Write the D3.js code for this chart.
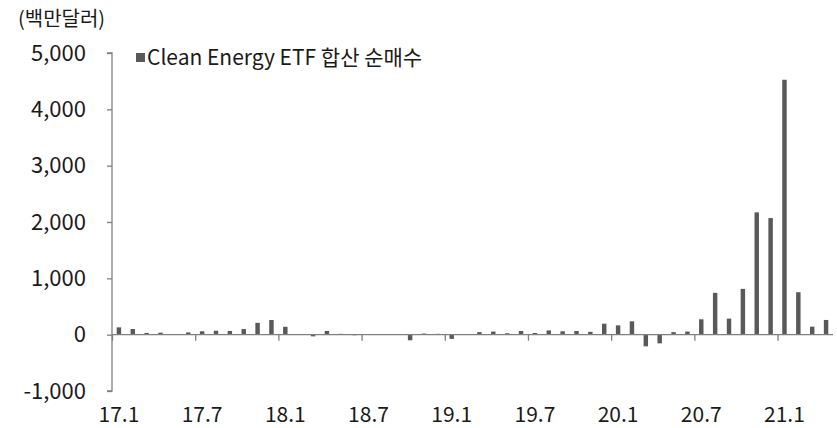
<!DOCTYPE html>
<html>
<head>
<meta charset="utf-8">
<script src="https://cdn.jsdelivr.net/npm/d3@7"></script>
<style>
  body { margin: 0; background: #fff; }
  svg text { font-family: "Noto Sans CJK KR", "Noto Sans", sans-serif; fill: #1a1a1a; }
</style>
</head>
<body>
<svg id="chart" width="837" height="428"></svg>
<script>
// monthly net flows, 17.1 ~ 21.4 (million USD)
var years = ["17", "18", "19", "20", "21"];
var flows17 = [130, 100, 30, 35, 5, 40, 60, 70, 65, 100, 210, 260];
var flows18 = [140, 5, -30, 65, 15, -10, 5, 5, 5, -100, 20, 15];
var flows19 = [-75, 10, 45, 55, 25, 65, 30, 75, 60, 65, 50, 195];
var flows20 = [165, 237, -207, -154, 45, 55, 273, 742, 285, 813, 2171, 2070];
var flows21 = [4525, 753, 142, 261];
var tickLabels = ["17.1", "17.7", "18.1", "18.7", "19.1", "19.7", "20.1", "20.7", "21.1"];
var yTicks = [-1000, 0, 1000, 2000, 3000, 4000, 5000];
var seriesName = "Clean Energy ETF 합산 순매수";
var unitLabel = "(백만달러)";

var allFlows = [flows17, flows18, flows19, flows20, flows21];
var data = [];
allFlows.forEach(function(arr, yi){
  arr.forEach(function(v, mi){
    data.push({ month: years[yi] + "." + (mi + 1), value: v });
  });
});

var plotL = 112, plotR = 833, plotT = 53, plotB = 391;

var svg = d3.select("#chart");

var y = d3.scaleLinear().domain([-1000, 5000]).range([plotB, plotT]);

var x = d3.scaleBand()
  .domain(data.map(function(d){ return d.month; }))
  .range([plotL, plotR])
  .paddingInner(0.68)
  .paddingOuter(0.34);

// linear month index scale for the boundary ticks
var xi = d3.scaleLinear().domain([0, data.length]).range([plotL, plotR]);

// bars
svg.append("g").selectAll("rect")
  .data(data)
  .enter().append("rect")
  .attr("x", function(d){ return x(d.month); })
  .attr("width", x.bandwidth())
  .attr("y", function(d){ return d.value >= 0 ? y(d.value) : y(0); })
  .attr("height", function(d){ return Math.abs(y(d.value) - y(0)); })
  .attr("fill", "#595959");

// y axis
var yAxis = svg.append("g")
  .attr("transform", "translate(" + plotL + ",0)")
  .call(d3.axisLeft(y).tickValues(yTicks).tickSize(5).tickPadding(21)
    .tickFormat(function(d){ return d3.format(",")(d).replace("\u2212", "-"); }));
yAxis.selectAll("text").style("font-size", "22px");

// x axis at zero: boundary ticks
var xAxis = svg.append("g")
  .attr("transform", "translate(0," + y(0) + ")")
  .call(d3.axisBottom(xi).tickValues(d3.range(0, 49, 6)).tickSize(6).tickFormat(""));

// x labels under the month bars
var xLab = svg.append("g")
  .attr("transform", "translate(0," + y(0) + ")")
  .call(d3.axisBottom(x).tickValues(tickLabels).tickSize(0).tickPadding(72));
xLab.select(".domain").remove();
xLab.selectAll("text").style("font-size", "21px");

svg.selectAll(".domain, .tick line").attr("stroke", "#808080").attr("stroke-width", 1.3);
yAxis.select(".domain").attr("d", "M-5," + plotT + "H0V" + plotB + "H-5");
xAxis.select(".domain").attr("d", "M" + plotL + ",0H" + plotR);

// unit label
svg.append("text")
  .attr("x", 18).attr("y", 26)
  .style("font-size", "20px")
  .text(unitLabel);

// legend
svg.append("rect")
  .attr("x", 136).attr("y", 53).attr("width", 9).attr("height", 9)
  .attr("fill", "#595959");
svg.append("text")
  .attr("x", 147).attr("y", 65)
  .style("font-size", "21px")
  .text(seriesName);
</script>
</body>
</html>
